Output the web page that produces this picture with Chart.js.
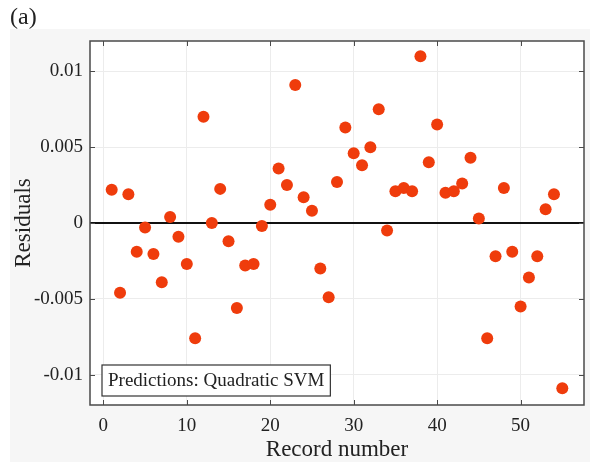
<!DOCTYPE html>
<html>
<head>
<meta charset="utf-8">
<script src="https://cdn.jsdelivr.net/npm/chart.js@4"></script>
<style>
  html, body { margin: 0; padding: 0; background: #fff; }
  #wrap { width: 590px; height: 462px; }
</style>
</head>
<body>
<div id="wrap"><canvas id="chart" width="590" height="462"></canvas></div>
<script>
// residual per record, records 1..55
const records = Array.from({ length: 55 }, (_, i) => i + 1);
const residuals = [
  0.0022, -0.0046, 0.0019, -0.0019, -0.0003, -0.00205, -0.0039, 0.0004, -0.0009, -0.0027,
  -0.0076, 0.0070, 0.0000, 0.00225, -0.0012, -0.0056, -0.0028, -0.0027, -0.0002, 0.0012,
  0.0036, 0.0025, 0.0091, 0.0017, 0.0008, -0.0030, -0.0049, 0.0027, 0.0063, 0.0046,
  0.0038, 0.0050, 0.0075, -0.0005, 0.0021, 0.0023, 0.0021, 0.0110, 0.0040, 0.0065,
  0.0020, 0.0021, 0.0026, 0.0043, 0.0003, -0.0076, -0.0022, 0.0023, -0.0019, -0.0055,
  -0.0036, -0.0022, 0.0009, 0.0019, -0.0109
];
const xTicks = [0, 10, 20, 30, 40, 50];
const yTicks = [-0.01, -0.005, 0, 0.005, 0.01];
const xRange = [-1.6, 57.6];
const yRange = [-0.012, 0.012];
const zeroLine = [0, 0];

const serif = "'Liberation Serif', 'DejaVu Serif', serif";
const ink = "#222";

// figure background, frame, inward ticks, titles and the annotation box
const framePlugin = {
  id: "frame",
  beforeDraw(chart) {
    const { ctx, chartArea: a } = chart;
    ctx.save();
    ctx.fillStyle = "#fff";
    ctx.fillRect(0, 0, chart.width, chart.height);
    ctx.fillStyle = "#f6f6f6";
    ctx.fillRect(10, 29, chart.width - 10, chart.height - 29);
    ctx.fillStyle = "#fff";
    ctx.fillRect(a.left, a.top, a.right - a.left, a.bottom - a.top);
    ctx.restore();
  },
  afterDraw(chart) {
    const { ctx, chartArea: a, scales } = chart;
    ctx.save();
    ctx.strokeStyle = "#4a4a4a";
    ctx.lineWidth = 1.5;
    ctx.strokeRect(a.left, a.top, a.right - a.left, a.bottom - a.top);

    ctx.lineWidth = 1;
    ctx.beginPath();
    for (const v of xTicks) {
      const x = Math.round(scales.x.getPixelForValue(v)) + 0.5;
      ctx.moveTo(x, a.bottom); ctx.lineTo(x, a.bottom - 5);
      ctx.moveTo(x, a.top); ctx.lineTo(x, a.top + 5);
    }
    for (const v of yTicks) {
      const y = Math.round(scales.y.getPixelForValue(v)) + 0.5;
      ctx.moveTo(a.left, y); ctx.lineTo(a.left + 5, y);
      ctx.moveTo(a.right, y); ctx.lineTo(a.right - 5, y);
    }
    ctx.stroke();

    // annotation box
    ctx.font = "19px " + serif;
    const label = "Predictions: Quadratic SVM";
    const w = ctx.measureText(label).width + 12;
    const bx = a.left + 12, by = a.bottom - 40, bh = 31;
    ctx.fillStyle = "#fff";
    ctx.fillRect(bx, by, w, bh);
    ctx.strokeStyle = "#333";
    ctx.lineWidth = 1.2;
    ctx.strokeRect(bx, by, w, bh);
    ctx.fillStyle = ink;
    ctx.textBaseline = "middle";
    ctx.textAlign = "left";
    ctx.fillText(label, bx + 6, by + bh / 2 + 1);

    // axis titles
    ctx.font = "23px " + serif;
    ctx.textAlign = "center";
    ctx.fillText("Record number", (a.left + a.right) / 2, 450);
    ctx.save();
    ctx.translate(24, (a.top + a.bottom) / 2);
    ctx.rotate(-Math.PI / 2);
    ctx.fillText("Residuals", 0, 0);
    ctx.restore();

    ctx.font = "24px " + serif;
    ctx.textAlign = "left";
    ctx.fillText("(a)", 10, 18);
    ctx.restore();
  }
};

new Chart(document.getElementById("chart"), {
  type: "scatter",
  data: {
    datasets: [
      {
        type: "line",
        data: xRange.map((x, i) => ({ x, y: zeroLine[i] })),
        borderColor: "#111",
        borderWidth: 1.8,
        pointRadius: 0,
        order: 2
      },
      {
        data: records.map((r, i) => ({ x: r, y: residuals[i] })),
        backgroundColor: "#ef3c0c",
        borderColor: "#ef3c0c",
        borderWidth: 0,
        pointRadius: 6,
        order: 1
      }
    ]
  },
  options: {
    responsive: false,
    animation: false,
    layout: { padding: { top: 41, right: 4, left: 0, bottom: 0 } },
    plugins: { legend: { display: false }, tooltip: { enabled: false } },
    scales: {
      x: {
        type: "linear",
        min: xRange[0],
        max: xRange[1],
        afterBuildTicks: (s) => { s.ticks = xTicks.map((value) => ({ value })); },
        afterFit: (s) => { s.height = 57; },
        grid: { color: "#ececec", lineWidth: 1, drawTicks: false },
        border: { display: false },
        ticks: { padding: 10, color: ink, font: { family: serif, size: 19 }, maxRotation: 0 }
      },
      y: {
        type: "linear",
        min: yRange[0],
        max: yRange[1],
        afterBuildTicks: (s) => { s.ticks = yTicks.map((value) => ({ value })); },
        afterFit: (s) => { s.width = 90; },
        grid: { color: "#ececec", lineWidth: 1, drawTicks: false },
        border: { display: false },
        ticks: {
          padding: 7,
          color: ink,
          font: { family: serif, size: 19 },
          callback: (v) => String(+v.toFixed(3))
        }
      }
    }
  },
  plugins: [framePlugin]
});
</script>
</body>
</html>
